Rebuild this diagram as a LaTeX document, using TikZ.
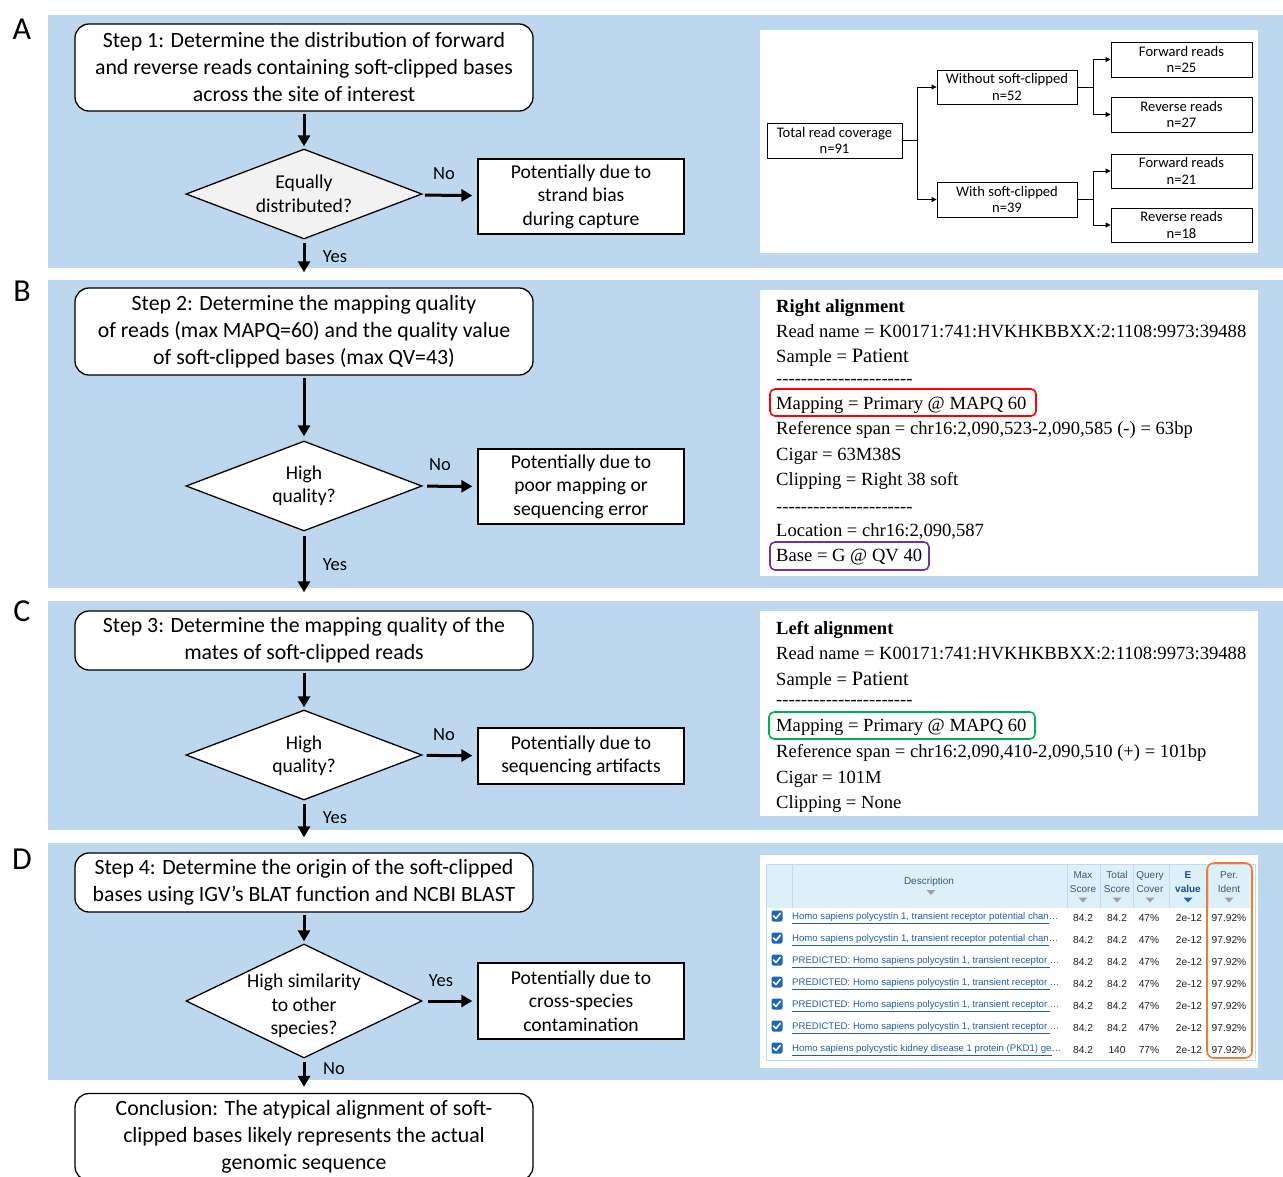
\documentclass[tikz,border=0pt]{standalone}
\usepackage{fontspec}
\setmainfont{Carlito}
\newfontfamily\tnr{Liberation Serif}
\newfontfamily\arial{Liberation Sans}
\usetikzlibrary{shapes.geometric,arrows.meta}
\definecolor{panelblue}{HTML}{BDD7EE}
\definecolor{diagrey}{HTML}{F2F2F2}
\definecolor{mapred}{HTML}{FF0000}
\definecolor{basepurple}{HTML}{7030A0}
\definecolor{mapgreen}{HTML}{00B050}
\definecolor{perorange}{HTML}{ED7D31}
\definecolor{linkblue}{HTML}{1F5FAD}
\definecolor{hdrbg}{HTML}{DDEFF8}
\definecolor{hdrtext}{HTML}{3B5A7A}
\definecolor{hdrline}{HTML}{C3DAE8}
\definecolor{chkblue}{HTML}{1A66C0}
\definecolor{evblue}{HTML}{1F4E8C}
\definecolor{numtext}{HTML}{222222}
\begin{document}
\begin{tikzpicture}[x=1pt,y=-1pt,
 stepbox/.style={draw, line width=1.3pt, rounded corners=14pt, fill=white, minimum width=458pt, align=center, font=\fontsize{21.8}{27}\selectfont, inner sep=2pt},
 resbox/.style={draw, line width=1.3pt, fill=white, minimum width=206pt, align=center, font=\fontsize{19.6}{23.5}\selectfont, inner sep=2pt},
 decision/.style={diamond, draw, line width=1.3pt, fill=white, minimum width=236pt, minimum height=90pt, inner sep=0pt},
 dtext/.style={align=center, font=\fontsize{19.6}{23.5}\selectfont, inner sep=0pt},
 arr/.style={line width=3pt, -{Triangle[length=11pt,width=12pt]}},
 lbl/.style={font=\fontsize{18.5}{20}\selectfont, inner sep=0pt},
 letter/.style={font=\fontsize{32}{34}\selectfont, inner sep=0pt},
 tbox/.style={draw, line width=0.9pt, fill=white, align=center, font=\fontsize{14.6}{16.5}\selectfont, inner sep=1pt, minimum height=35pt},
 tarr/.style={line width=0.9pt, -{Triangle[length=5pt,width=5pt]}},
 rtxt/.style={anchor=base west, inner sep=0pt, font=\tnr\fontsize{18.6}{22}\selectfont},
 hdr/.style={align=center, inner sep=0pt, text=hdrtext, font=\arial\fontsize{10}{14}\selectfont},
 desc/.style={anchor=west, inner sep=0pt, text=linkblue, font=\arial\fontsize{9.6}{11}\selectfont},
 num/.style={inner sep=0pt, text=numtext, font=\arial\fontsize{10.2}{11}\selectfont},
 chk/.style={rounded corners=2pt, fill=chkblue, minimum size=11pt, inner sep=0pt}
]
\useasboundingbox (0,0) rectangle (1283,1176);
\clip (0,0) rectangle (1283,1176);
\fill[white] (0,0) rectangle (1283,1176);

% panels
\fill[panelblue] (48,15) rectangle (1283,268);
\fill[panelblue] (48,280) rectangle (1283,588);
\fill[panelblue] (48,601) rectangle (1283,830);
\fill[panelblue] (48,843) rectangle (1283,1080);
\node[letter] (LA) at (22,29) {A};
\node[letter] (LB) at (22,291) {B};
\node[letter] (LC) at (22,611) {C};
\node[letter] (LD) at (22,859) {D};

% white info panels
\fill[white] (760,30) rectangle (1258,253);
\fill[white] (760,290) rectangle (1258,576);
\fill[white] (760,611) rectangle (1258,816);
\fill[white] (760,855) rectangle (1258,1068);

% ---------- left flow ----------
\node[stepbox, minimum height=87pt] (s1) at (304,67.5) {Step 1: Determine the distribution of forward\\and reverse reads containing soft-clipped bases\\across the site of interest};
\node[decision, fill=diagrey] (d1) at (304,194) {};
\node[dtext] (d1t) at (304,194) {Equally\\distributed?};
\node[resbox, minimum height=75pt] (r1) at (581,196.5) {Potentially due to\\strand bias\\during capture};

\node[stepbox, minimum height=87pt] (s2) at (304,331.5) {Step 2: Determine the mapping quality\\of reads (max MAPQ=60) and the quality value\\of soft-clipped bases (max QV=43)};
\node[decision] (d2) at (304,486) {};
\node[dtext] (d2t) at (304,486) {High\\quality?};
\node[resbox, minimum height=75pt] (r2) at (581,486.5) {Potentially due to\\poor mapping or\\sequencing error};

\node[stepbox, minimum height=59pt] (s3) at (304,640.5) {Step 3: Determine the mapping quality of the\\mates of soft-clipped reads};
\node[decision] (d3) at (304,755) {};
\node[dtext] (d3t) at (304,756) {High\\quality?};
\node[resbox, minimum height=56pt] (r3) at (581,756) {Potentially due to\\sequencing artifacts};

\node[stepbox, minimum height=59pt] (s4) at (304,882.5) {Step 4: Determine the origin of the soft-clipped\\bases using IGV's BLAT function and NCBI BLAST};
\node[decision, minimum height=114pt] (d4) at (304,1001) {};
\node[dtext] (d4t) at (304,1006) {High similarity\\to other\\species?};
\node[resbox, minimum height=76pt] (r4) at (581,1001) {Potentially due to\\cross-species\\contamination};

\node[stepbox, minimum height=87pt] (cc) at (304,1137) {Conclusion: The atypical alignment of soft-\\clipped bases likely represents the actual\\genomic sequence};

% arrows
\draw[arr, shorten <=2pt, shorten >=2pt] (s1) -- (d1);
\draw[arr, shorten <=5pt, shorten >=5pt] (d1) -- (r1);
\draw[arr, shorten <=3pt, shorten >=15pt] (d1) -- (s2);
\draw[arr, shorten <=2pt, shorten >=4pt] (s2) -- (d2);
\draw[arr, shorten <=5pt, shorten >=5pt] (d2) -- (r2);
\draw[arr, shorten <=4pt, shorten >=18pt] (d2) -- (s3);
\draw[arr, shorten <=2pt, shorten >=2pt] (s3) -- (d3);
\draw[arr, shorten <=5pt, shorten >=5pt] (d3) -- (r3);
\draw[arr, shorten <=3pt, shorten >=15pt] (d3) -- (s4);
\draw[arr, shorten <=2pt, shorten >=2pt] (s4) -- (d4);
\draw[arr, shorten <=5pt, shorten >=5pt] (d4) -- (r4);
\draw[arr, shorten <=3pt, shorten >=6pt] (d4) -- (cc);

\node[lbl] (n1) at (444,174) {No};
\node[lbl] (y1) at (335,257) {Yes};
\node[lbl] (n2) at (440,465) {No};
\node[lbl] (y2) at (335,565) {Yes};
\node[lbl] (n3) at (444,735) {No};
\node[lbl] (y3) at (335,818) {Yes};
\node[lbl] (y4) at (441,981) {Yes};
\node[lbl] (n4) at (334,1069) {No};

% ---------- panel A tree ----------
\node[tbox, minimum width=135pt] (tot) at (834.5,140.5) {Total read coverage\\n=91};
\node[tbox, minimum width=140pt, minimum height=34pt] (wo) at (1007,87) {Without soft-clipped\\n=52};
\node[tbox, minimum width=140pt] (wi) at (1007,199.5) {With soft-clipped\\n=39};
\node[tbox, minimum width=141pt] (f1) at (1181.5,59.5) {Forward reads\\n=25};
\node[tbox, minimum width=141pt] (rv1) at (1181.5,114.5) {Reverse reads\\n=27};
\node[tbox, minimum width=141pt, minimum height=34pt] (f2) at (1181.5,171) {Forward reads\\n=21};
\node[tbox, minimum width=141pt, minimum height=34pt] (rv2) at (1181.5,225) {Reverse reads\\n=18};
\draw[tarr] (tot.east) -- ++(15,0) |- (wo.west);
\draw[tarr] (tot.east) -- ++(15,0) |- (wi.west);
\draw[tarr] (wo.east) -- ++(16,0) |- (f1.west);
\draw[tarr] (wo.east) -- ++(16,0) |- (rv1.west);
\draw[tarr] (wi.east) -- ++(16,0) |- (f2.west);
\draw[tarr] (wi.east) -- ++(16,0) |- (rv2.west);

% ---------- panel B text ----------
\node[rtxt] (b1) at (776,312) {\textbf{Right alignment}};
\node[rtxt] (b2) at (776,337.5) {Read name = K00171:741:HVKHKBBXX:2:1108:9973:39488};
\node[rtxt] (b3) at (776,362.5) {Sample = {\fontsize{20.5}{22}\selectfont Patient}};
\node[rtxt] (b4) at (776,384) {-{}-{}-{}-{}-{}-{}-{}-{}-{}-{}-{}-{}-{}-{}-{}-{}-{}-{}-{}-{}-{}-{}};
\node[rtxt] (b5) at (776,409) {Mapping = Primary @ MAPQ 60};
\node[rtxt] (b6) at (776,434) {Reference span = chr16:2,090,523-2,090,585 (-) = 63bp};
\node[rtxt] (b7) at (776,460) {Cigar = 63M38S};
\node[rtxt] (b8) at (776,485) {Clipping = Right 38 soft};
\node[rtxt] (b9) at (776,512) {-{}-{}-{}-{}-{}-{}-{}-{}-{}-{}-{}-{}-{}-{}-{}-{}-{}-{}-{}-{}-{}-{}};
\node[rtxt] (b10) at (776,536) {Location = chr16:2,090,587};
\node[rtxt] (b11) at (776,561) {Base = G @ QV 40};
\draw[mapred, line width=1.6pt, rounded corners=5pt] (770,389) rectangle (1036,416);
\draw[basepurple, line width=1.6pt, rounded corners=5pt] (770,542) rectangle (929,570);

% ---------- panel C text ----------
\node[rtxt] (c1) at (776,634) {\textbf{Left alignment}};
\node[rtxt] (c2) at (776,659.5) {Read name = K00171:741:HVKHKBBXX:2:1108:9973:39488};
\node[rtxt] (c3) at (776,685) {Sample = {\fontsize{20.5}{22}\selectfont Patient}};
\node[rtxt] (c4) at (776,705) {-{}-{}-{}-{}-{}-{}-{}-{}-{}-{}-{}-{}-{}-{}-{}-{}-{}-{}-{}-{}-{}-{}};
\node[rtxt] (c5) at (776,731) {Mapping = Primary @ MAPQ 60};
\node[rtxt] (c6) at (776,757) {Reference span = chr16:2,090,410-2,090,510 (+) = 101bp};
\node[rtxt] (c7) at (776,783) {Cigar = 101M};
\node[rtxt] (c8) at (776,808) {Clipping = None};
\draw[mapgreen, line width=1.6pt, rounded corners=5pt] (769,712) rectangle (1035,739);

% ---------- panel D table ----------
\fill[hdrbg] (767,865) rectangle (1254,908);
\draw[hdrline, line width=0.8pt] (766,864) rectangle (1255,1060);
\foreach \sx in {792,1067,1100,1133,1169,1208}{
  \draw[hdrline, line width=0.8pt] (\sx,865) -- (\sx,908);
}
\node[hdr] (hdesc) at (929,882) {Description};
\node[hdr] (hmax) at (1083,882) {Max\\Score};
\node[hdr] (htot) at (1117,882) {Total\\Score};
\node[hdr] (hqc) at (1150,882) {Query\\Cover};
\node[hdr, text=evblue, font=\arial\bfseries\fontsize{10}{14}\selectfont] (hev) at (1188,882) {E\\value};
\node[hdr] (hpi) at (1229,882) {Per.\\Ident};
\fill[gray!75] (926.5,890) -- (935.5,890) -- (931,895) -- cycle;
\foreach \tx in {1083,1117,1150,1229}{
  \fill[gray!75] (\tx-4.5,897.5) -- (\tx+4.5,897.5) -- (\tx,902.5) -- cycle;
}
\fill[chkblue] (1183.5,897.5) -- (1192.5,897.5) -- (1188,902.5) -- cycle;

\foreach \i/\ry/\dd/\ts/\qc in {
 1/918/{Homo sapiens polycystin 1, transient receptor potential chan}/84.2/47,
 2/940/{Homo sapiens polycystin 1, transient receptor potential chan}/84.2/47,
 3/962/{PREDICTED: Homo sapiens polycystin 1, transient receptor }/84.2/47,
 4/984/{PREDICTED: Homo sapiens polycystin 1, transient receptor }/84.2/47,
 5/1006/{PREDICTED: Homo sapiens polycystin 1, transient receptor }/84.2/47,
 6/1028/{PREDICTED: Homo sapiens polycystin 1, transient receptor }/84.2/47,
 7/1050/{Homo sapiens polycystic kidney disease 1 protein (PKD1) ge}/140/77}{
  \node[chk] (ck\i) at (777,\ry-2) {};
  \draw[white, line width=1.6pt, line cap=round, line join=round] (773.5,\ry-2) -- ++(2.5,2.5) -- ++(4.2,-5.2);
  \node[desc] (ds\i) at (792,\ry) {\underline{\dd}…};
  \node[num] (mx\i) at (1083,\ry) {84.2};
  \node[num] (ts\i) at (1117,\ry) {\ts};
  \node[num] (qc\i) at (1149,\ry) {\qc\%};
  \node[num] (ev\i) at (1189,\ry) {2e-12};
  \node[num] (pi\i) at (1229,\ry) {97.92\%};
}
\draw[perorange, line width=1.6pt, rounded corners=7pt] (1207,863) rectangle (1252,1058);
\end{tikzpicture}
\end{document}
